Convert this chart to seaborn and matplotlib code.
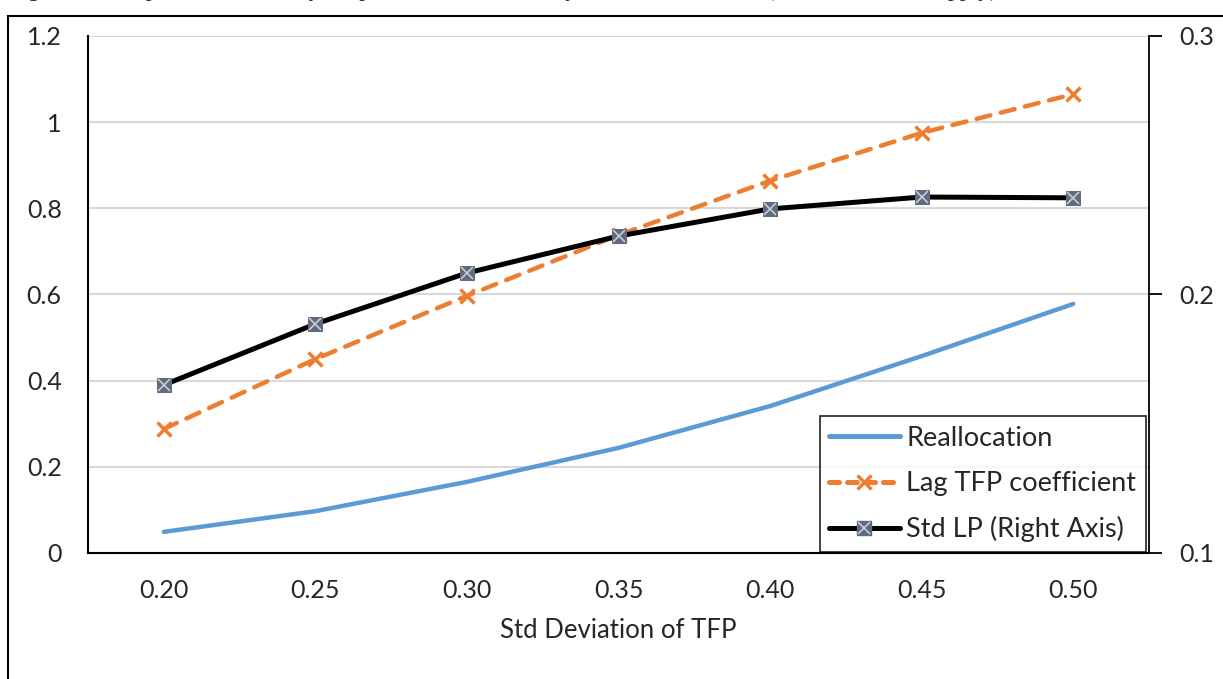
import matplotlib
matplotlib.use("Agg")
import matplotlib.pyplot as plt
import seaborn as sns
import pandas as pd
from matplotlib.lines import Line2D
from matplotlib.patches import Rectangle

# values
std_tfp = ["0.20", "0.25", "0.30", "0.35", "0.40", "0.45", "0.50"]
reallocation = [0.049, 0.097, 0.165, 0.244, 0.341, 0.457, 0.578]
lag_tfp = [0.288, 0.450, 0.597, 0.738, 0.864, 0.975, 1.065]
std_lp = [0.165, 0.1886, 0.2083, 0.2226, 0.2331, 0.2377, 0.2374]

left_ticks = [0, 0.2, 0.4, 0.6, 0.8, 1.0, 1.2]
left_labels = ["0", "0.2", "0.4", "0.6", "0.8", "1", "1.2"]
right_ticks = [0.1, 0.2, 0.3]
right_labels = ["0.1", "0.2", "0.3"]

blue = "#5B9BD5"
orange = "#ED7D31"
slate = "#5E6A7D"

sns.set_style("white")
plt.rcParams["font.family"] = ["Lato", "DejaVu Sans"]

df = pd.DataFrame({"std": std_tfp, "realloc": reallocation,
                   "lag": lag_tfp, "lp": std_lp})

fig = plt.figure(figsize=(12.23, 6.79), dpi=100)
ax = fig.add_axes([0.0720, 0.1856, 0.8675, 0.7614])

sns.lineplot(data=df, x="std", y="realloc", ax=ax, color=blue, lw=3.2,
             solid_capstyle="round", sort=False)
sns.lineplot(data=df, x="std", y="lag", ax=ax, color=orange, lw=3.2,
             linestyle="--", marker="x", markersize=10, mew=2.5,
             mec=orange, dash_capstyle="round", sort=False)
ax.lines[-1].set_dashes([3.2, 2.4])

ax.set_ylim(0, 1.2)
ax.set_xlim(-0.5, 6.5)
ax.set_yticks(left_ticks)
ax.set_yticklabels(left_labels)
ax.grid(axis="y", color="#D9D9D9", lw=1.5)
ax.set_axisbelow(True)
ax.tick_params(axis="y", length=0, pad=19, labelsize=18)
ax.tick_params(axis="x", length=0, pad=19, labelsize=18)
ax.set_xlabel("Std Deviation of TFP", fontsize=18.5, labelpad=11)
ax.set_ylabel("")
for side in ["top", "right"]:
    ax.spines[side].set_visible(False)
for side in ["left", "bottom"]:
    ax.spines[side].set_color("black")
    ax.spines[side].set_linewidth(1.5)

ax2 = ax.twinx()
sns.lineplot(data=df, x="std", y="lp", ax=ax2, color="black", lw=3.6,
             marker="s", markersize=10, mfc=slate, mec=slate, sort=False)
ax2.plot(std_tfp, std_lp, ls="none", marker="x", markersize=8, mew=1.2,
         color="#C8CCD4")
ax2.set_ylim(0.1, 0.3)
ax2.set_yticks(right_ticks)
ax2.set_yticklabels(right_labels)
ax2.set_ylabel("")
ax2.tick_params(axis="y", length=9, width=1.3, color="black", pad=13,
                labelsize=18, direction="out")
for side in ["top", "left", "bottom"]:
    ax2.spines[side].set_visible(False)
ax2.spines["right"].set_color("black")
ax2.spines["right"].set_linewidth(1.3)

h1 = Line2D([], [], color=blue, lw=3.6, solid_capstyle="round")
h2 = Line2D([], [], color=orange, lw=3.6, ls="--", dashes=[2.0, 1.6],
            marker="x", markersize=10, mew=2.5, dash_capstyle="round")
h3a = Line2D([], [], color="black", lw=3.6, marker="s", markersize=10,
             mfc=slate, mec=slate)
h3b = Line2D([], [], ls="none", marker="x", markersize=8, mew=1.2,
             color="#C8CCD4")
leg = ax2.legend([h1, h2, (h3a, h3b)],
                 ["Reallocation", "Lag TFP coefficient", "Std LP (Right Axis)"],
                 loc="lower right", bbox_to_anchor=(0.997, 0.002),
                 borderaxespad=0, fontsize=19.5, frameon=True, fancybox=False,
                 edgecolor="black", handlelength=2.6, labelspacing=0.75,
                 handletextpad=0.25, borderpad=0.35)
leg.get_frame().set_linewidth(1.3)

# surrounding frame and clipped caption of the source document
fig.add_artist(Rectangle((8 / 1223, -0.1), 1.2, 1 - 16 / 679 + 0.1,
                         transform=fig.transFigure, fill=False,
                         edgecolor="black", lw=1.5))
fig.text(8 / 1223, 1.0 + 4 / 679,
         "Figure 6: Comparative Statics by Dispersion of Productivity with "
         "Misallocation (Inelastic Labor Supply)",
         family=["Liberation Serif"], fontsize=17, va="baseline", ha="left")

fig.savefig("out.png", dpi=100)
